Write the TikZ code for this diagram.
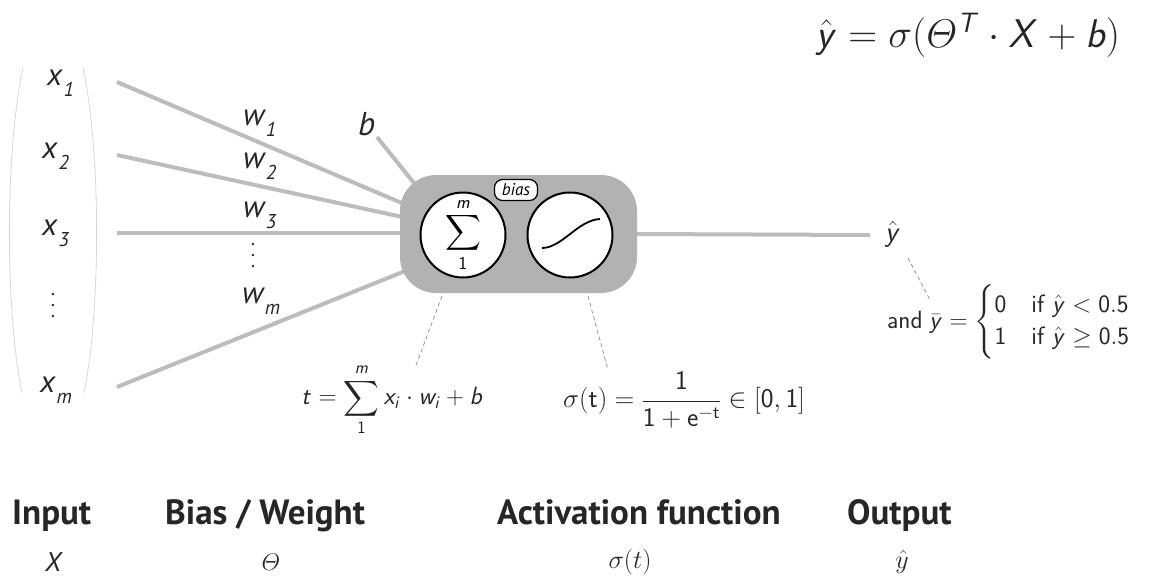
\documentclass[tikz,border=0pt]{standalone}
\usepackage{fix-cm}
\usepackage{amsmath}
\usepackage[no-math]{fontspec}
\setmainfont{PT Sans}
\DeclareMathAlphabet{\mathsfit}{OT1}{cmss}{m}{sl}
\DeclareMathAlphabet{\mathsf}{OT1}{cmss}{m}{n}
\usetikzlibrary{backgrounds}
\definecolor{wiregray}{RGB}{188,188,188}
\definecolor{boxgray}{RGB}{178,178,178}
\definecolor{ink}{RGB}{38,38,38}
\definecolor{brk}{RGB}{215,215,215}
\definecolor{guidegray}{RGB}{150,150,150}
\newcommand\fsz[2]{\fontsize{#1}{#2}\selectfont}
\newcommand\sublab[2]{\fsz{31}{36}\itshape #1\kern1.5pt\raisebox{-11pt}{\fsz{20}{24}#2}}
\newcommand\vdts{\vbox{\fsz{20}{11}\baselineskip=11pt\lineskiplimit=0pt\hbox{.}\hbox{.}\hbox{.}}}
\tikzset{
  wire/.style={draw=wiregray, line width=4pt},
  guide/.style={draw=guidegray, line width=0.8pt, dash pattern=on 4pt off 3pt},
  lbl/.style={inner sep=0pt, text=ink},
  head/.style={inner sep=0pt, text=ink, font=\fsz{35}{40}\bfseries},
  unit/.style={circle, draw=black, line width=2pt, fill=white, minimum size=85pt, inner sep=0pt},
  biasbox/.style={draw=black, line width=1.2pt, fill=white, rounded corners=8pt, minimum width=43pt, minimum height=21pt, inner sep=1pt, font=\fsz{17}{20}\itshape},
  brkline/.style={draw=brk, line width=0.8pt},
}
\begin{document}
\begin{tikzpicture}[x=1pt,y=-1pt]
\useasboundingbox (0,0) rectangle (1165,579);
% vector bracket
\draw[brkline] (23,68) .. controls (5,150) and (5,310) .. (22,393);
\draw[brkline] (83,68) .. controls (101,150) and (101,310) .. (84,393);
% inputs
\node[lbl,anchor=base west] (x1) at (47,85) {\sublab{x}{1}};
\node[lbl,anchor=base west] (x2) at (42,158) {\sublab{x}{2}};
\node[lbl,anchor=base west] (x3) at (42,235) {\sublab{x}{3}};
\node[lbl] (xd) at (53,306) {\vdts};
\node[lbl,anchor=base west] (xm) at (40,392) {\sublab{x}{m}};
% weights
\node[lbl,anchor=base west] (w1) at (243,125) {\sublab{w}{1}};
\node[lbl,anchor=base west] (w2) at (243,168) {\sublab{w}{2}};
\node[lbl,anchor=base west] (w3) at (243,217) {\sublab{w}{3}};
\node[lbl] (wd) at (253,256) {\vdts};
\node[lbl,anchor=base west] (wm) at (242,303) {\sublab{w}{m}};
\node[lbl,anchor=base west] (b) at (358,135) {\fsz{33}{36}\itshape b};
% neuron
\node[fill=boxgray, rounded corners=36pt, minimum width=237pt, minimum height=118pt, inner sep=0pt] (neuron) at (518.5,234) {};
\node[unit] (sum) at (463,235) {\fsz{26}{28}$\displaystyle\sum_{\mathsf{1}}^{\mathsfit{m}}$};
\node[unit] (sig) at (570,235) {};
\draw[line width=1.8pt] (542,248) .. controls (562,248) and (578,220) .. (600,219);
\node[biasbox] (bias) at (516,190) {bias};
% wires
\coordinate (s1) at (117,82);  \coordinate (e1) at (430,215);
\coordinate (s2) at (117,155); \coordinate (e2) at (430,223);
\coordinate (s3) at (117,233); \coordinate (e3) at (430,233);
\coordinate (sm) at (117,387); \coordinate (em) at (430,261);
\coordinate (sb) at (377,137); \coordinate (eb) at (430,203);
\coordinate (yo) at (870,235);
\begin{scope}[on background layer]
\draw[wire] (s1) -- (e1);
\draw[wire] (s2) -- (e2);
\draw[wire] (s3) -- (e3);
\draw[wire] (sm) -- (em);
\draw[wire] (sb) -- (eb);
\end{scope}
\draw[wire] (neuron.east) -- (yo);
\node[lbl] (yhat) at (893,234) {\fsz{29}{30}$\hat{\mathsfit{y}}$};
% formulas
\node[lbl] (tf) at (392,400) {\fsz{25}{30}$\mathsfit{t} = \displaystyle\sum_{\mathsf 1}^{\mathsfit m} \mathsfit{x}_{\mathsfit i}\cdot \mathsfit{w}_{\mathsfit i} + \mathsfit b$};
\node[lbl] (sf) at (684,400) {\fsz{27}{30}$\sigma(\mathsf t) = \dfrac{\mathsf 1}{\mathsf 1+\mathsf e^{-\mathsf t}} \in [\mathsf 0, \mathsf 1]$};
\node[lbl,anchor=west] (cs) at (887,322) {\fsz{25}{27}\textsf{and} $\bar{\mathsfit y} = \begin{cases}\mathsf 0 & \textsf{if } \hat{\mathsfit y} < \mathsf{0.5}\\ \mathsf 1 & \textsf{if } \hat{\mathsfit y} \geq \mathsf{0.5}\end{cases}$};
\node[lbl,anchor=base] (top) at (968,47) {\fsz{40}{44}$\hat{\mathsfit y} = \sigma(\varTheta^{\mathsfit T}\cdot \mathsfit X + \mathsfit b)$};
% guides
\coordinate (g1a) at (442,296); \coordinate (g1b) at (415,368);
\coordinate (g2a) at (588,296); \coordinate (g2b) at (608,370);
\coordinate (g3a) at (908,258); \coordinate (g3b) at (930,300);
\draw[guide] (g1a) -- (g1b);
\draw[guide] (g2a) -- (g2b);
\draw[guide] (g3a) -- (g3b);
% legend
\node[head,anchor=base west] (h1) at (12,524) {Input};
\node[head,anchor=base west] (h2) at (165,524) {Bias / Weight};
\node[head,anchor=base west] (h3) at (497,524) {Activation function};
\node[head,anchor=base west] (h4) at (847,524) {Output};
\node[lbl] (v1) at (53,562) {\fsz{27}{30}\itshape X};
\node[lbl] (v2) at (271,562) {\fsz{24}{24}$\varTheta$};
\node[lbl] (v3) at (630,562) {\fsz{26}{28}$\sigma(t)$};
\node[lbl] (v4) at (902,562) {\fsz{26}{28}$\hat{y}$};
\end{tikzpicture}
\end{document}
